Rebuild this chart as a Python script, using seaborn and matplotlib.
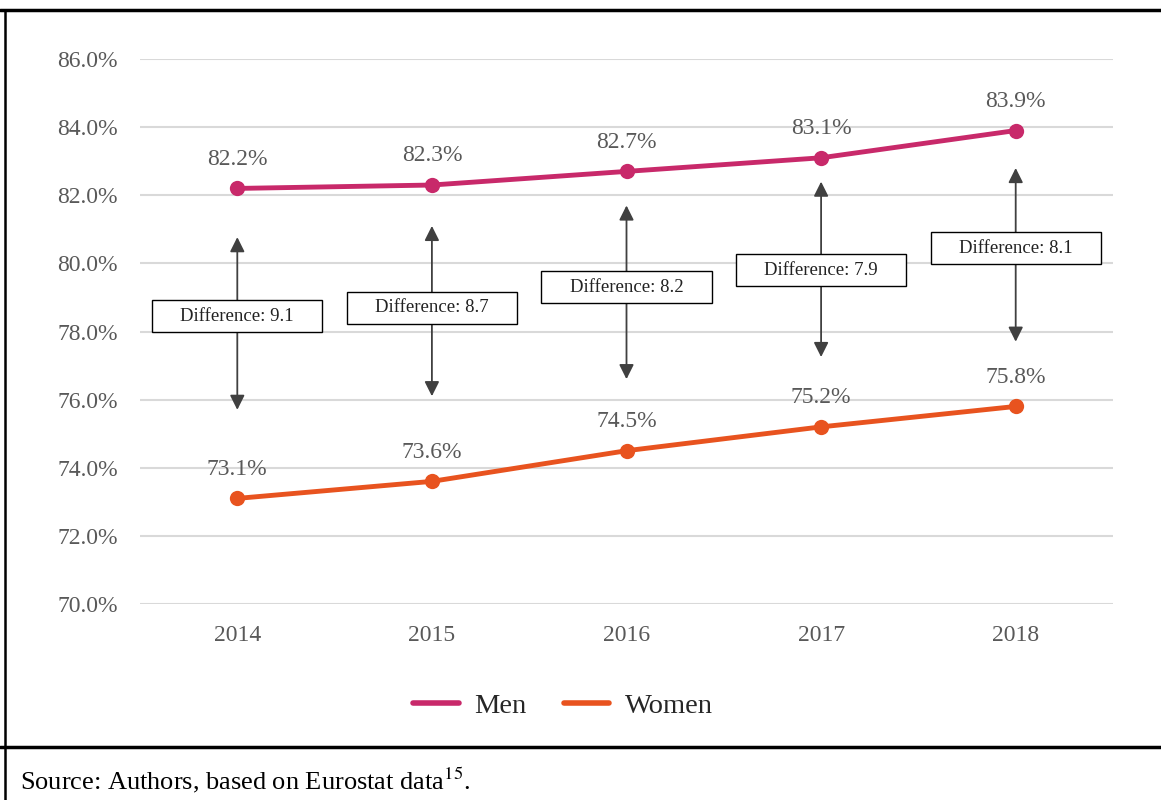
import matplotlib
matplotlib.use("Agg")
import matplotlib.pyplot as plt
from matplotlib.lines import Line2D
from matplotlib.patches import Rectangle
import numpy as np
import pandas as pd
import seaborn as sns

years = [2014, 2015, 2016, 2017, 2018]
men = [82.2, 82.3, 82.7, 83.1, 83.9]
women = [73.1, 73.6, 74.5, 75.2, 75.8]
diff_labels = ["9.1", "8.7", "8.2", "7.9", "8.1"]
# where the difference arrows start / end and where the box sits (in %)
arrow_top = [80.77, 81.1, 81.7, 82.4, 82.8]
arrow_bot = [75.7, 76.1, 76.6, 77.25, 77.7]
box_mid = [78.45, 78.7, 79.3, 79.8, 80.45]
yticks = [70, 72, 74, 76, 78, 80, 82, 84, 86]

men_color = "#C8296A"
women_color = "#E8531F"
grey = "#595959"

df = pd.DataFrame({
    "year": years * 2,
    "value": men + women,
    "sex": ["Men"] * 5 + ["Women"] * 5,
})

sns.set_theme(style="white")
plt.rcParams["font.family"] = ["Liberation Serif", "DejaVu Serif"]
plt.rcParams["mathtext.fontset"] = "stix"

fig = plt.figure(figsize=(11.61, 8), dpi=100)
ax = fig.add_axes([140 / 1161, 1 - 604 / 800, 973 / 1161, 545 / 800])

sns.lineplot(data=df, x="year", y="value", hue="sex",
             palette={"Men": men_color, "Women": women_color},
             marker="o", markersize=11, markeredgewidth=0,
             linewidth=3.5, legend=False, ax=ax, zorder=3)

ax.set_xlim(2013.5, 2018.5)
ax.set_ylim(70, 86)
ax.set_xticks(years)
ax.set_xticklabels([str(y) for y in years])
ax.set_yticks(yticks)
ax.set_yticklabels([f"{v:.1f}%" for v in yticks])
ax.tick_params(axis="both", colors=grey, labelsize=17, length=0)
ax.tick_params(axis="y", pad=16)
ax.tick_params(axis="x", pad=15)
ax.yaxis.grid(True, color="#d9d9d9", lw=1.5)
ax.set_axisbelow(True)
for s in ax.spines.values():
    s.set_visible(False)
ax.set_xlabel("")
ax.set_ylabel("")

for x, m, w in zip(years, men, women):
    ax.annotate(f"{m:.1f}%", (x, m), xytext=(0, 21), textcoords="offset points",
                ha="center", va="center", fontsize=17, color=grey)
    ax.annotate(f"{w:.1f}%", (x, w), xytext=(0, 21), textcoords="offset points",
                ha="center", va="center", fontsize=17, color=grey)

for x, t, b, mid, lab in zip(years, arrow_top, arrow_bot, box_mid, diff_labels):
    for end in (t, b):
        ax.annotate("", xy=(x, end), xytext=(x, mid),
                    arrowprops=dict(arrowstyle="-|>", color="#404040", lw=1.3,
                                    mutation_scale=22, shrinkA=0, shrinkB=0),
                    zorder=4)
    ax.add_patch(Rectangle((x - 0.437, mid - 0.47), 0.874, 0.94,
                           facecolor="white", edgecolor="black", lw=1, zorder=5))
    ax.text(x, mid, f"Difference: {lab}", ha="center", va="center",
            fontsize=13.5, color="#222222", zorder=6)

handles = [Line2D([], [], color=men_color, lw=4),
           Line2D([], [], color=women_color, lw=4)]
fig.legend(handles, ["Men", "Women"], loc="center", bbox_to_anchor=(0.485, 0.118),
           ncol=2, frameon=False, fontsize=20.5, handlelength=1.6,
           columnspacing=1.3, handletextpad=0.55)

# frame of the figure box
fig.add_artist(Line2D([0, 1], [1 - 10 / 800] * 2, color="black", lw=2.5))
fig.add_artist(Line2D([0, 1], [1 - 747 / 800] * 2, color="black", lw=2.5))
fig.add_artist(Line2D([5 / 1161] * 2, [0, 1 - 10 / 800], color="black", lw=1.8))

fig.text(20 / 1161, 1 - 780 / 800, r"Source: Authors, based on Eurostat data$^{15}$.",
         ha="left", va="center", fontsize=19, color="black")

fig.savefig("out.png", dpi=100)
